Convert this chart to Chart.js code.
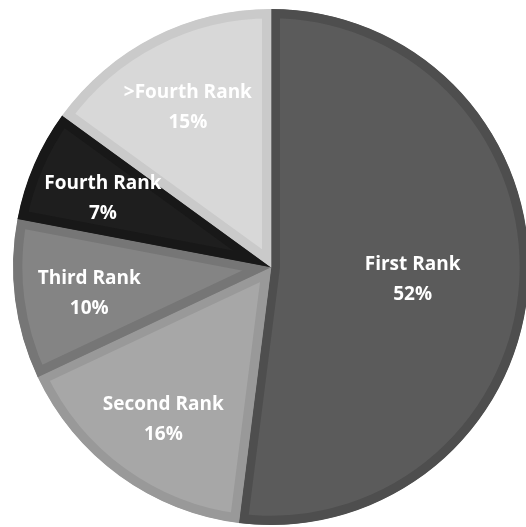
<!DOCTYPE html>
<html>
<head>
<meta charset="utf-8">
<script src="https://cdn.jsdelivr.net/npm/chart.js@4.4.0/dist/chart.umd.min.js"></script>
<style>
  html, body { margin: 0; padding: 0; background: #fff; overflow: hidden; }
  #wrap { position: absolute; left: 0; top: 0; width: 540px; height: 540px; }
</style>
</head>
<body>
<div id="wrap"><canvas id="rankPie"></canvas></div>
<script>
const categories = ['First Rank', 'Second Rank', 'Third Rank', 'Fourth Rank', '>Fourth Rank'];
const shares = [52, 16, 10, 7, 15];
const fillColors = ['#5b5b5b', '#a7a7a7', '#848484', '#1e1e1e', '#d8d8d8'];
const edgeColors = ['#4e4e4e', '#999999', '#767676', '#181818', '#cacaca'];

// draws "name / pct%" inside each slice
const sliceLabels = {
    id: 'sliceLabels',
    afterDatasetsDraw(chart) {
        const ctx = chart.ctx;
        const meta = chart.getDatasetMeta(0);
        ctx.save();
        ctx.fillStyle = '#ffffff';
        ctx.textAlign = 'center';
        ctx.textBaseline = 'middle';
        ctx.font = 'bold 19px "Open Sans"';
        meta.data.forEach(function(arc, i) {
            const p = arc.getProps(['x', 'y', 'startAngle', 'endAngle', 'outerRadius'], true);
            const mid = (p.startAngle + p.endAngle) / 2;
            const k = i === 0 ? 0.55 : 0.71;
            const cx = p.x + Math.cos(mid) * p.outerRadius * k;
            const cy = p.y + Math.sin(mid) * p.outerRadius * k;
            ctx.fillText(categories[i], cx, cy - 11);
            ctx.fillText(shares[i] + '%', cx, cy + 19);
        });
        ctx.restore();
    }
};

new Chart(document.getElementById('rankPie').getContext('2d'), {
    type: 'pie',
    data: {
        labels: categories,
        datasets: [{
            data: shares,
            backgroundColor: fillColors,
            borderColor: edgeColors,
            borderWidth: 9,
            borderAlign: 'inner',
            borderJoinStyle: 'miter'
        }]
    },
    options: {
        responsive: true,
        maintainAspectRatio: false,
        animation: false,
        layout: { padding: { left: 13, top: 9, right: 11, bottom: 15 } },
        plugins: {
            legend: { display: false },
            tooltip: { enabled: false }
        }
    },
    plugins: [sliceLabels]
});
</script>
</body>
</html>
